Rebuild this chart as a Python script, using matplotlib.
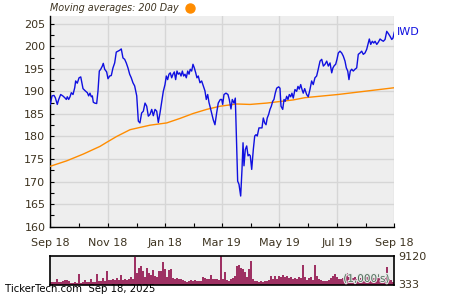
import numpy as np
import matplotlib
matplotlib.use("Agg")
import matplotlib.pyplot as plt
import matplotlib.patheffects as pe
from matplotlib.lines import Line2D

# price trace (days since Sep 18 2018, close)
price_days = [0, 1.8, 3.9, 5.3, 7.4, 8.9, 11.0, 13.2, 15.3, 17.0, 18.0, 19.5, 20.9, 22.3, 24.1,
              25.9, 26.9, 28.6, 30.5, 32.3, 33.6, 34.7, 37.1, 39.3, 40.7, 42.1, 43.5, 44.6, 45.6,
              47.1, 49.2, 50.6, 52.0, 53.5, 55.2, 56.2, 57.7, 59.8, 61.2, 63.0, 64.7, 66.5, 68.3,
              70.0, 71.8, 73.6, 75.3, 77.1, 78.9, 80.6, 82.4, 84.2, 85.9, 87.7, 89.5, 91.7, 93.4,
              95.1, 96.9, 98.7, 100.5, 102.3, 104.0, 105.8, 107.6, 109.3, 111.1, 112.9, 114.6,
              116.4, 118.2, 119.9, 121.7, 123.1, 124.5, 125.9, 127.3, 128.8, 130.2, 131.6, 133.0,
              134.4, 135.8, 137.3, 138.7, 140.1, 141.5, 142.9, 144.3, 145.8, 147.2, 148.5, 150.0,
              151.4, 152.8, 154.3, 155.6, 157.0, 158.8, 160.6, 162.3, 164.1, 165.5, 167.0, 168.4,
              169.4, 172.9, 174.7, 176.5, 178.2, 180.4, 181.9, 182.9, 184.3, 186.4, 188.5, 189.9,
              191.7, 193.1, 194.9, 196.3, 197.8, 198.8, 200.2, 202.0, 203.4, 204.5, 205.5, 206.9,
              208.4, 209.8, 211.1, 212.2, 213.7, 215.4, 216.9, 218.3, 219.6, 221.4, 223.2, 224.6,
              226.0, 227.5, 228.9, 230.2, 231.7, 233.1, 234.5, 236.0, 237.3, 238.7, 240.2, 242.3,
              243.7, 244.8, 246.6, 248.0, 249.3, 250.8, 252.2, 253.6, 255.1, 256.4, 257.8, 259.6,
              261.4, 262.8, 264.2, 265.7, 267.1, 268.4, 269.9, 272.0, 273.7, 275.5, 277.3, 279.0,
              280.8, 282.6, 284.3, 286.2, 288.0, 289.7, 291.5, 293.3, 295.0, 296.8, 298.6, 299.9,
              301.3, 302.8, 304.2, 305.6, 307.4, 309.2, 310.9, 312.7, 314.1, 315.6, 316.9, 318.3,
              319.8, 321.5, 323.3, 325.1, 326.8, 328.6, 330.4, 332.1, 333.9, 335.7, 337.4, 338.5,
              340.0, 341.7, 343.2, 344.6, 346.4, 348.1, 349.9, 351.7, 353.4, 355.2, 357.0, 358.7,
              360.5, 362.3, 363.6, 365.0]
price = [187.1, 189.0, 189.1, 188.6, 187.1, 188.2, 189.3, 189.0, 188.6, 188.2, 188.8, 188.2, 188.8,
         189.7, 189.3, 190.8, 192.3, 191.8, 193.0, 193.2, 191.8, 190.6, 190.1, 189.7, 189.0, 189.6,
         188.8, 189.0, 187.6, 187.4, 187.3, 190.1, 194.5, 194.9, 195.6, 196.2, 194.9, 194.3, 192.8,
         193.4, 193.5, 195.2, 196.3, 198.7, 198.9, 199.1, 199.4, 197.4, 197.1, 196.3, 195.2, 193.8,
         193.0, 191.9, 191.2, 189.0, 183.4, 183.0, 185.2, 185.6, 187.4, 186.7, 184.5, 184.9, 186.0,
         184.6, 186.0, 185.6, 183.1, 185.2, 187.6, 190.0, 191.5, 193.4, 192.6, 193.8, 194.1, 193.0,
         193.8, 194.3, 192.6, 194.5, 193.8, 194.1, 193.4, 194.5, 193.4, 193.8, 193.0, 194.5, 193.8,
         194.9, 194.5, 196.0, 195.2, 194.1, 193.0, 193.4, 191.9, 192.3, 191.2, 190.1, 188.2, 189.3,
         187.5, 186.7, 183.7, 182.6, 185.2, 187.4, 188.2, 188.2, 187.1, 189.3, 189.6, 189.3, 188.2,
         186.1, 188.2, 187.4, 188.5, 177.9, 170.1, 169.4, 166.8, 172.7, 178.6, 173.5, 177.1, 177.9,
         175.7, 176.0, 175.7, 172.7, 177.1, 180.1, 180.4, 180.1, 181.9, 181.9, 181.9, 184.1, 183.0,
         182.6, 184.1, 184.9, 186.0, 186.7, 187.8, 188.2, 189.6, 190.7, 191.0, 190.7, 186.7, 186.0,
         188.2, 187.8, 188.9, 188.2, 189.3, 188.8, 189.6, 188.5, 190.4, 190.0, 191.1, 190.5, 191.5,
         190.4, 189.6, 190.6, 189.3, 188.8, 190.4, 192.3, 191.5, 193.0, 193.4, 194.9, 196.7, 197.1,
         195.6, 196.0, 196.7, 195.6, 196.3, 194.1, 195.2, 195.7, 196.0, 197.1, 198.5, 198.9, 198.5,
         197.8, 196.7, 195.2, 194.5, 192.6, 194.5, 194.9, 194.5, 194.9, 195.2, 198.2, 198.5, 198.9,
         198.2, 198.5, 199.3, 200.7, 201.6, 200.4, 201.1, 200.7, 201.1, 200.4, 200.9, 201.6, 201.3,
         201.1, 201.5, 203.3, 202.8, 202.2, 201.5, 201.8, 203.1]

# 200 day moving average
ma_days = [0, 17.4, 35.0, 52.7, 59.8, 70.4, 84.6, 95.1, 105.8, 123.5, 137.6, 151.7, 165.9,
           180.1, 197.8, 211.9, 229.6, 257.8, 270.2, 305.2, 341.0, 365.0]
ma200 = [173.4, 174.6, 176.1, 177.8, 178.7, 180.0, 181.5, 182.0, 182.5, 183.0, 184.0, 185.1,
         186.0, 186.7, 187.2, 187.1, 187.4, 188.1, 188.6, 189.3, 190.2, 190.8]

# volume in 1000's, roughly one bar per two pixels of the original
volume = [1000, 1100, 900, 1900, 1000, 1100, 1300, 1500, 1600, 1200, 700, 650, 800, 700, 3500,
          750, 900, 1600, 900, 1000, 1900, 1000, 1100, 3500, 1300, 1200, 2100, 1300, 4500, 1600,
          1500, 1900, 1500, 2100, 1600, 3200, 1700, 1800, 1600, 1900, 2700, 1800, 8900, 3700,
          5300, 6100, 4300, 2400, 5300, 3700, 3200, 4800, 3000, 2700, 4500, 4300, 7200, 5000,
          2700, 4700, 5000, 2200, 2000, 2200, 2000, 1800, 1500, 1200, 1000, 1300, 1600, 1300,
          1600, 1200, 1400, 1300, 2600, 2200, 1800, 2000, 3200, 2000, 1900, 2000, 1700, 9120,
          2000, 4000, 1500, 1300, 1800, 2200, 3000, 6000, 6500, 5300, 5000, 4000, 2500, 5000,
          7500, 2000, 1300, 1200, 1000, 1200, 1000, 1300, 1200, 1500, 3000, 1800, 3000, 2000,
          2800, 2400, 3200, 2600, 3000, 2200, 2600, 2000, 2200, 1800, 2500, 2100, 6300, 2600,
          1700, 2100, 2600, 1700, 6200, 3000, 2000, 1500, 1300, 1400, 1200, 1600, 2100, 3000,
          3600, 2400, 2000, 1800, 2300, 3300, 3700, 2600, 2100, 2200, 2400, 1900, 2700, 2300,
          2000, 2200, 2500, 2200, 2000, 2300, 2100, 2200, 2400, 2000, 2100, 2200, 5700, 2000,
          1500, 1100]

tick_days = [0, 61, 122, 182, 243, 304, 365]
tick_labels = ['Sep 18', 'Nov 18', 'Jan 18', 'Mar 19', 'May 19', 'Jul 19', 'Sep 18']
price_ticks = [160, 165, 170, 175, 180, 185, 190, 195, 200, 205]

TEXT = '#3d3320'
BG = '#eeeeee'
GRID = '#d6d6d6'

fig = plt.figure(figsize=(4.5, 3), dpi=100)
ax = fig.add_axes([0.1118, 0.2443, 0.7644, 0.7024])
vax = fig.add_axes([0.1118, 0.05, 0.7644, 0.0957])

# main price panel
ax.set_facecolor(BG)
ax.plot(ma_days, ma200, color='#ff8c00', lw=1.0, zorder=3)
ax.plot(price_days, price, color='#1010e0', lw=1.0, zorder=4)
ax.set_xlim(0, 365)
ax.set_ylim(160, 206.7)
ax.set_xticks(tick_days)
ax.set_xticklabels(tick_labels)
ax.set_xticks([(a + b) / 2 for a, b in zip(tick_days[:-1], tick_days[1:])], minor=True)
ax.set_yticks(price_ticks)
ax.set_yticks([t + 2.5 for t in price_ticks[:-1]], minor=True)
ax.grid(True, which='major', color=GRID, lw=1.0, zorder=0)
ax.set_axisbelow(True)
for s in ['top', 'right']:
    ax.spines[s].set_visible(False)
for s in ['left', 'bottom']:
    ax.spines[s].set_linewidth(1.0)
ax.tick_params(which='both', direction='in', length=3, width=0.8, colors='black',
               labelcolor=TEXT, labelsize=8)
ax.tick_params(axis='x', pad=8)
ax.text(1.008, (price[-1] - 160) / 46.7, 'IWD', transform=ax.transAxes, color='#1010e0',
        fontsize=8, va='center', ha='left')

fig.text(0.112, 0.972, 'Moving averages: 200 Day', fontsize=6.9, style='italic',
         color=TEXT, va='center', ha='left')
fig.add_artist(Line2D([0.423], [0.974], transform=fig.transFigure, marker='o',
                      markersize=6.5, color='#ff8c00', lw=0))

# volume panel
xs = np.linspace(0, 365, len(volume) + 1)
vax.set_facecolor(BG)
vax.bar(xs[:-1], volume, width=xs[1] - xs[0], align='edge', color='#9e3163', lw=0, zorder=2)
vax.set_xlim(0, 365)
vax.set_ylim(0, 9120)
vax.set_xticks([])
vax.yaxis.tick_right()
vax.set_yticks([333, 9120])
vax.set_yticklabels(['333', '9120'])
vax.tick_params(axis='y', length=0, pad=3, labelsize=8, labelcolor=TEXT)
for s in vax.spines.values():
    s.set_linewidth(1.2)
vax.text(0.985, 0.04, "(1,000's)", transform=vax.transAxes, ha='right', va='bottom',
         fontsize=7.5, color='#4f6f5a', zorder=5,
         path_effects=[pe.withStroke(linewidth=1.5, foreground='#e8e8e8')])

fig.text(0.012, 0.02, 'TickerTech.com  Sep 18, 2025', fontsize=7.3, color='black',
         va='bottom', ha='left')

fig.savefig('out.png', dpi=100)
